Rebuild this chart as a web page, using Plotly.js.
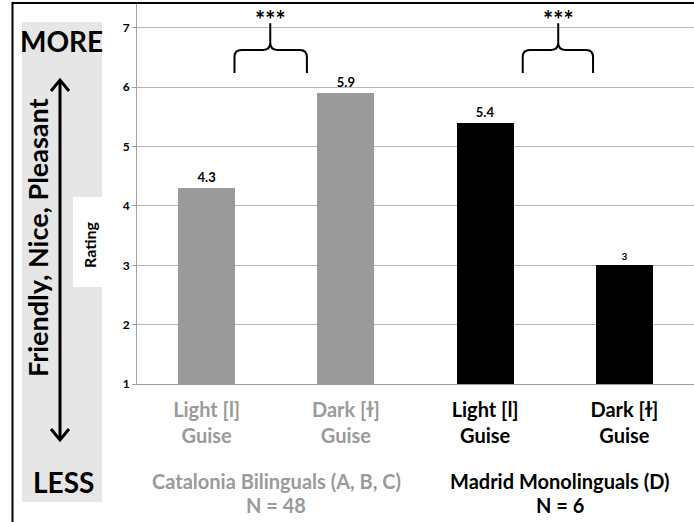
<!DOCTYPE html>
<html><head><meta charset="utf-8">
<script src="https://cdn.plot.ly/plotly-3.0.1.min.js"></script>
<style>html,body{margin:0;padding:0;background:#fff}#chart{width:694px;height:522px}</style>
</head><body><div id="chart"></div>
<script>
// ---- data ----
const guiseTop = ['Light [l]', 'Dark [ɫ]', 'Light [l]', 'Dark [ɫ]'];
const guiseBottom = ['Guise', 'Guise', 'Guise', 'Guise'];
const ratings = [4.3, 5.9, 5.4, 3];
const groupNames = ['Catalonia Bilinguals (A, B, C)', 'Madrid Monolinguals (D)'];
const groupN = ['N = 48', 'N = 6'];
const yTicks = [1, 2, 3, 4, 5, 6, 7];
const sigMarks = ['***', '***'];

// ---- style ----
const GRAY = '#9a9a9a';
const FONT = 'Lato, "Open Sans", "DejaVu Sans", sans-serif';
const barColors = [GRAY, GRAY, '#000000', '#000000'];
const labelColors = [GRAY, GRAY, '#000000', '#000000'];
const L = 137, R = 694, T = 3, B = 384;
const px = p => (p - L) / (R - L);
const py = p => (B - p) / (B - T);

const xIdx = ratings.map((_, i) => i);
const tickText = xIdx.map(i =>
  `<span style="color:${labelColors[i]}">${guiseTop[i]}</span><br><span style="color:${labelColors[i]}">${guiseBottom[i]}</span>`);

const trace = {
  type: 'bar', x: xIdx, y: ratings, width: 0.41,
  marker: {color: barColors, line: {width: 0}},
  text: ratings.map(String), textposition: 'outside', cliponaxis: false,
  textfont: {family: FONT, size: [13, 13, 13, 10], weight: 'bold', color: '#000'},
  hoverinfo: 'none'
};

function brace(x0, x1, xc, yb, yh, ypk) {
  const rx = 0.05, ry = 0.12;
  return `M ${x0},${yb} L ${x0},${yh - ry} Q ${x0},${yh} ${x0 + rx},${yh} L ${xc - rx},${yh} Q ${xc},${yh} ${xc},${yh + ry} L ${xc},${ypk} ` +
         `M ${xc},${yh + ry} Q ${xc},${yh} ${xc + rx},${yh} L ${x1 - rx},${yh} Q ${x1},${yh} ${x1},${yh - ry} L ${x1},${yb}`;
}
const braceDefs = [
  {x0: 0.2, x1: 0.72, xc: 0.457},
  {x0: 2.27, x1: 2.775, xc: 2.525}
];

const shapes = [
  {type: 'rect', xref: 'paper', yref: 'paper', x0: px(22), x1: px(102), y0: py(502), y1: py(22),
   fillcolor: '#e6e6e6', line: {width: 0}, layer: 'below'},
  {type: 'rect', xref: 'paper', yref: 'paper', x0: px(73), x1: px(102), y0: py(287), y1: py(197),
   fillcolor: '#ffffff', line: {width: 0}, layer: 'below'},
  {type: 'line', xref: 'paper', yref: 'paper', x0: px(12.5), x1: px(12.5), y0: py(522), y1: py(2),
   line: {color: '#000', width: 2}},
  {type: 'line', xref: 'paper', yref: 'paper', x0: px(12), x1: px(694), y0: py(3), y1: py(3),
   line: {color: '#000', width: 2}},
  {type: 'line', xref: 'paper', yref: 'paper', x0: px(60), x1: px(60), y0: py(440), y1: py(81),
   line: {color: '#000', width: 3}},
  {type: 'path', xref: 'paper', yref: 'paper',
   path: `M ${px(51)},${py(91)} L ${px(60)},${py(80)} L ${px(69)},${py(91)}`, line: {color: '#000', width: 3}},
  {type: 'path', xref: 'paper', yref: 'paper',
   path: `M ${px(51)},${py(429)} L ${px(60)},${py(440)} L ${px(69)},${py(429)}`, line: {color: '#000', width: 3}}
];
braceDefs.forEach(b => shapes.push({
  type: 'path', xref: 'x', yref: 'y', path: brace(b.x0, b.x1, b.xc, 6.24, 6.63, 7.08),
  line: {color: '#000', width: 2}
}));

const annotations = [
  {xref: 'paper', yref: 'paper', x: px(61), y: py(41), text: 'MORE', showarrow: false,
   font: {family: FONT, size: 28, weight: 'bold', color: '#000'}, xanchor: 'center', yanchor: 'middle'},
  {xref: 'paper', yref: 'paper', x: px(63), y: py(482), text: 'LESS', showarrow: false,
   font: {family: FONT, size: 28, weight: 'bold', color: '#000'}, xanchor: 'center', yanchor: 'middle'},
  {xref: 'paper', yref: 'paper', x: px(37), y: py(238), text: 'Friendly, Nice, Pleasant', showarrow: false,
   textangle: -90, font: {family: FONT, size: 27, weight: 'bold', color: '#000'}, xanchor: 'center', yanchor: 'middle'},
  {xref: 'paper', yref: 'paper', x: px(89), y: py(245), text: 'Rating', showarrow: false,
   textangle: -90, font: {family: FONT, size: 16, weight: 'bold', color: '#000'}, xanchor: 'center', yanchor: 'middle'}
];
braceDefs.forEach((b, i) => annotations.push({
  xref: 'x', yref: 'paper', x: b.xc, y: py(19), text: sigMarks[i], showarrow: false,
  font: {family: FONT, size: 24, weight: 'bold', color: '#000'}, xanchor: 'center', yanchor: 'middle'
}));
const groupX = [0.5, 2.54];
const groupColors = [GRAY, '#000000'];
groupNames.forEach((g, i) => {
  annotations.push({
    xref: 'x', yref: 'paper', x: groupX[i], y: py(481), text: g, showarrow: false,
    font: {family: FONT, size: 20, weight: 'bold', color: groupColors[i]}, xanchor: 'center', yanchor: 'middle'
  });
  annotations.push({
    xref: 'x', yref: 'paper', x: groupX[i], y: py(505), text: groupN[i], showarrow: false,
    font: {family: FONT, size: 20, weight: 'bold', color: groupColors[i]}, xanchor: 'center', yanchor: 'middle'
  });
});

const layout = {
  width: 694, height: 522,
  margin: {l: L, r: 694 - R, t: T, b: 522 - B},
  paper_bgcolor: '#fff', plot_bgcolor: '#fff',
  showlegend: false, bargap: 0,
  xaxis: {range: [-0.5, 3.5], tickmode: 'array', tickvals: xIdx, ticktext: tickText,
          showgrid: false, zeroline: false, showline: true, linecolor: '#a0a0a0', linewidth: 1,
          ticks: '', ticklabelstandoff: 8,
          tickfont: {family: FONT, size: 20, weight: 'bold', color: '#000'}, fixedrange: true},
  yaxis: {range: [1, 7.42], tickmode: 'array', tickvals: yTicks, ticktext: yTicks.map(String),
          showgrid: true, gridcolor: '#b5b5b5', gridwidth: 1, zeroline: false,
          showline: true, linecolor: '#a0a0a0', linewidth: 1, ticks: 'outside', ticklen: 4, tickcolor: '#a0a0a0',
          tickfont: {family: FONT, size: 12, weight: 'bold', color: '#000'}, fixedrange: true},
  shapes: shapes, annotations: annotations
};

Plotly.newPlot('chart', [trace], layout, {displayModeBar: false, staticPlot: true});
</script>
</body></html>
